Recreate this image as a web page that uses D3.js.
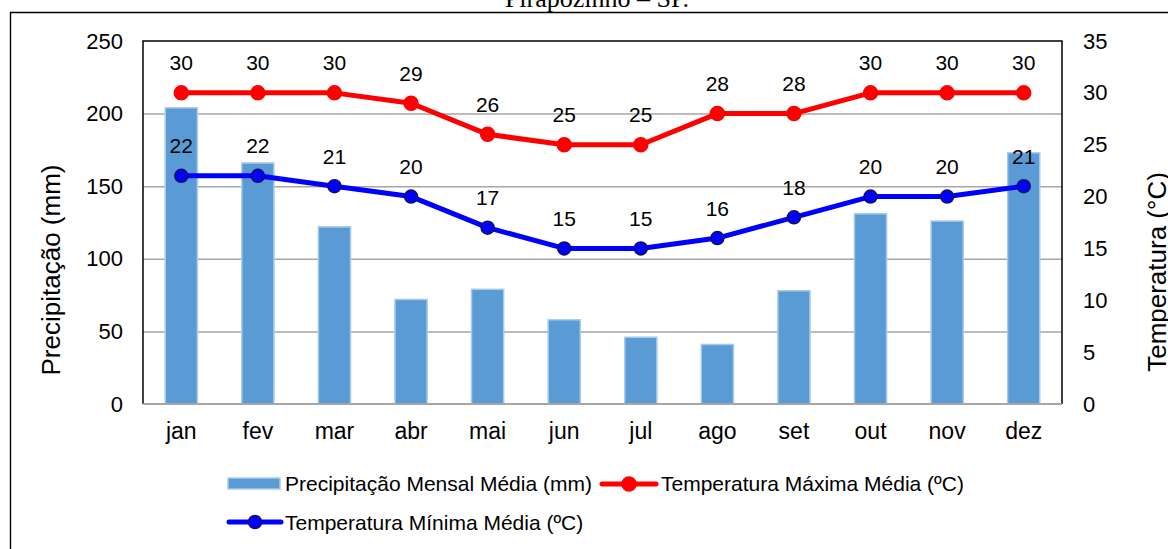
<!DOCTYPE html>
<html>
<head>
<meta charset="utf-8">
<script src="https://cdn.jsdelivr.net/npm/d3@7"></script>
<style>
  body { margin: 0; background: #fff; }
  svg { display: block; font-family: Arial, "Liberation Sans", sans-serif; }
</style>
</head>
<body>
<svg></svg>
<script>
const width = 1168
const height = 549

// data
const months = ['jan', 'fev', 'mar', 'abr', 'mai', 'jun', 'jul', 'ago', 'set', 'out', 'nov', 'dez']
const precip = [204, 166, 122, 72, 79, 58, 46, 41, 78, 131, 126, 173]
const tMax = [30, 30, 30, 29, 26, 25, 25, 28, 28, 30, 30, 30]
const tMin = [22, 22, 21, 20, 17, 15, 15, 16, 18, 20, 20, 21]
const precipTicks = [0, 50, 100, 150, 200, 250]
const tempTicks = [0, 5, 10, 15, 20, 25, 30, 35]

const plot = { left: 143, right: 1062, top: 41, bottom: 404 }

const svg = d3.select('svg').attr('width', width).attr('height', height)

// caption cut off at the top + outer frame
svg.append('text')
  .attr('x', 597).attr('y', 7)
  .attr('text-anchor', 'middle')
  .style('font-family', '"Liberation Serif", "Times New Roman", serif')
  .style('font-size', '26px')
  .text('Pirapozinho – SP.')

svg.append('path')
  .attr('d', `M10.5,${height} V12.5 H${width}`)
  .attr('fill', 'none')
  .attr('stroke', '#000')
  .attr('stroke-width', 1.4)

const x = d3.scaleBand()
  .domain(months)
  .range([plot.left, plot.right])
  .paddingInner(0.58)
  .paddingOuter(0.29)

const yL = d3.scaleLinear().domain([0, 250]).range([plot.bottom, plot.top])
const yR = d3.scaleLinear().domain([0, 35]).range([plot.bottom, plot.top])

// gridlines
const grid = svg.append('g')
  .attr('transform', `translate(${plot.left},0)`)
  .call(d3.axisLeft(yL).tickValues(precipTicks.slice(1, -1)).tickSize(-(plot.right - plot.left)).tickFormat(''))
grid.select('.domain').remove()
grid.selectAll('line').attr('stroke', '#a6a6a6').attr('stroke-width', 1.5)

// bars
svg.append('g').selectAll('rect')
  .data(precip)
  .join('rect')
  .attr('x', (d, i) => x(months[i]))
  .attr('y', d => yL(d))
  .attr('width', x.bandwidth())
  .attr('height', d => yL(0) - yL(d))
  .attr('fill', '#5b9bd5')
  .attr('stroke', '#a9cbea')
  .attr('stroke-width', 1.5)

// plot frame
svg.append('path')
  .attr('d', `M${plot.left},${plot.bottom} V${plot.top} H${plot.right} V${plot.bottom}`)
  .attr('fill', 'none').attr('stroke', '#000').attr('stroke-width', 1.5)
svg.append('line')
  .attr('x1', plot.left).attr('x2', plot.right)
  .attr('y1', plot.bottom).attr('y2', plot.bottom)
  .attr('stroke', '#a6a6a6').attr('stroke-width', 2)

// axes (labels only)
const axL = svg.append('g')
  .attr('transform', `translate(${plot.left - 20},0)`)
  .call(d3.axisLeft(yL).tickValues(precipTicks).tickSize(0).tickPadding(0))
const axR = svg.append('g')
  .attr('transform', `translate(${plot.right + 21},0)`)
  .call(d3.axisRight(yR).tickValues(tempTicks).tickSize(0).tickPadding(0))
const axB = svg.append('g')
  .attr('transform', `translate(0,${plot.bottom + 19})`)
  .call(d3.axisBottom(x).tickSize(0).tickPadding(0))
;[axL, axR, axB].forEach(g => {
  g.select('.domain').remove()
  g.selectAll('text').attr('fill', '#000').style('font-family', 'Arial, "Liberation Sans", sans-serif')
})
axL.selectAll('text').style('font-size', '22px')
axR.selectAll('text').style('font-size', '22px')
axB.selectAll('text').style('font-size', '23px')

// axis titles
svg.append('text')
  .attr('transform', 'translate(60,270) rotate(-90)')
  .attr('text-anchor', 'middle')
  .style('font-size', '26px')
  .text('Precipitação (mm)')
svg.append('text')
  .attr('transform', 'translate(1166,272) rotate(-90)')
  .attr('text-anchor', 'middle')
  .style('font-size', '26px')
  .text('Temperatura (°C)')

// temperature lines
const cx = d => x(d) + x.bandwidth() / 2
const series = [
  { values: tMax, color: '#ff0000', stroke: '#ff0000', r: 7 },
  { values: tMin, color: '#0000ff', stroke: '#101060', r: 6.5 }
]
series.forEach(s => {
  const line = d3.line().x((d, i) => cx(months[i])).y(d => yR(d))
  svg.append('path')
    .datum(s.values)
    .attr('d', line)
    .attr('fill', 'none')
    .attr('stroke', s.color)
    .attr('stroke-width', 5)
    .attr('stroke-linejoin', 'round')
  svg.append('g').selectAll('circle')
    .data(s.values)
    .join('circle')
    .attr('cx', (d, i) => cx(months[i]))
    .attr('cy', d => yR(d))
    .attr('r', s.r)
    .attr('fill', s.color)
    .attr('stroke', s.stroke)
    .attr('stroke-width', 1.5)
  svg.append('g').selectAll('text')
    .data(s.values)
    .join('text')
    .attr('x', (d, i) => cx(months[i]))
    .attr('y', d => yR(d) - 22.5)
    .attr('text-anchor', 'middle')
    .style('font-size', '21px')
    .text(d => d)
})

// legend
const legend = svg.append('g').style('font-size', '21px')
legend.append('rect')
  .attr('x', 228).attr('y', 478).attr('width', 52).attr('height', 11)
  .attr('fill', '#5b9bd5').attr('stroke', '#a9cbea').attr('stroke-width', 1.5)
legend.append('text').attr('x', 285).attr('y', 491).text('Precipitação Mensal Média (mm)')

const legLine = (x0, x1, y, s) => {
  legend.append('line')
    .attr('x1', x0).attr('x2', x1).attr('y1', y).attr('y2', y)
    .attr('stroke', s.color).attr('stroke-width', 5).attr('stroke-linecap', 'round')
  legend.append('circle')
    .attr('cx', (x0 + x1) / 2).attr('cy', y).attr('r', s.r)
    .attr('fill', s.color).attr('stroke', s.stroke).attr('stroke-width', 1.5)
}
legLine(602, 656, 484, series[0])
legend.append('text').attr('x', 661).attr('y', 491).text('Temperatura Máxima Média (ºC)')
legLine(229, 281, 522, series[1])
legend.append('text').attr('x', 285).attr('y', 530).text('Temperatura Mínima Média (ºC)')
</script>
</body>
</html>
